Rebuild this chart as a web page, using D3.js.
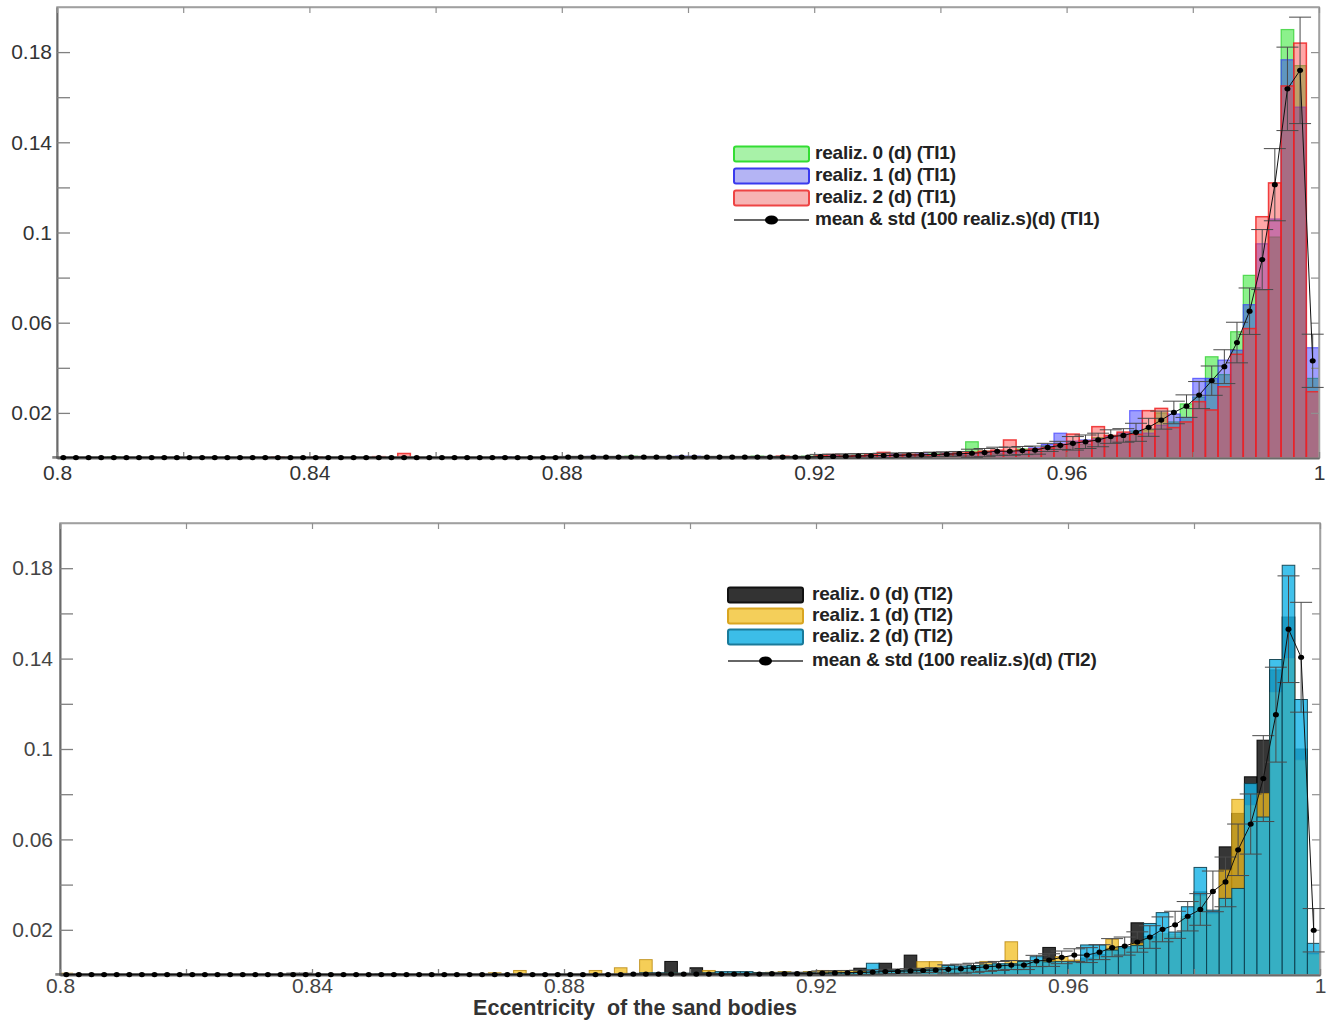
<!DOCTYPE html>
<html><head><meta charset="utf-8">
<script src="https://cdn.jsdelivr.net/npm/d3@7"></script>
<style>
body{margin:0;background:#fff}
svg{display:block;font-family:"Liberation Sans",Arial,sans-serif}
</style></head><body>
<svg id="chart" width="1335" height="1023"></svg>
<script>
// ---------- bins ----------
const binStart = 0.8, binWidth = 0.002, binCount = 100;
const xTickValues = [0.8,0.82,0.84,0.86,0.88,0.9,0.92,0.94,0.96,0.98,1.0];
const xTickLabels = ["0.8","","0.84","","0.88","","0.92","","0.96","","1"];
const yTickValues = [0.02,0.04,0.06,0.08,0.1,0.12,0.14,0.16,0.18];
const yTickLabels = ["0.02","","0.06","","0.1","","0.14","","0.18"];

// ---------- top panel (TI1) ----------
const topReal0 = [
 0,0,0,0,0.0006,0,0,0,0,0,
 0,0,0,0,0,0,0,0,0,0,
 0,0,0,0,0,0,0,0,0,0,
 0,0,0,0,0,0,0,0,0,0,
 0,0,0,0,0,0.0008,0.0004,0,0.0005,0.0004,
 0.0005,0.0005,0.0004,0,0,0.0008,0,0,0,0.0008,
 0.0008,0.0006,0.001,0.0012,0.001,0.0012,0.0014,0.0015,0.0012,0.0018,
 0.0016,0.002,0.0072,0.003,0.002,0.003,0.004,0.003,0.005,0.005,
 0.007,0.006,0.009,0.009,0.0105,0.012,0.0125,0.02,0.016,0.024,
 0.027,0.0449,0.037,0.056,0.081,0.0744,0.098,0.19,0.174,0.0353];
const topReal1 = [
 0,0,0,0,0,0,0,0,0,0,
 0,0,0,0,0,0,0,0,0,0,
 0,0,0,0,0,0,0,0,0,0,
 0,0,0,0,0,0.0006,0,0,0,0,
 0,0,0.0007,0,0,0,0,0,0,0.0008,
 0.0008,0,0,0,0,0,0,0,0,0,
 0.0006,0.001,0.0008,0.001,0.0012,0.001,0.0015,0.0012,0.0018,0.0015,
 0.002,0.0018,0.002,0.0025,0.003,0.0025,0.003,0.0045,0.006,0.011,
 0.0075,0.008,0.0085,0.0095,0.011,0.021,0.011,0.0145,0.0195,0.018,
 0.0353,0.0353,0.0434,0.0478,0.068,0.095,0.106,0.1766,0.1556,0.0489];
const topReal2 = [
 0,0,0,0,0,0,0,0,0,0,
 0,0,0,0,0,0,0,0.0005,0,0,
 0.0005,0,0,0,0,0.0006,0,0.002,0,0,
 0,0,0,0,0,0,0,0,0,0,
 0,0,0,0,0,0,0,0,0,0,
 0,0,0,0,0,0,0,0.0008,0,0,
 0.001,0.0015,0.0008,0.001,0.0014,0.0025,0.0012,0.0016,0.0015,0.0014,
 0.0018,0.0022,0.0025,0.003,0.0035,0.008,0.0035,0.004,0.0045,0.006,
 0.0106,0.0075,0.0139,0.01,0.0115,0.0105,0.021,0.022,0.0135,0.016,
 0.025,0.0213,0.0316,0.046,0.0574,0.107,0.122,0.165,0.184,0.0294];
const topMean = [
 0.0002,0.0002,0.0002,0.0002,0.0002,0.0002,0.0002,0.0002,0.0002,0.0002,
 0.0002,0.0002,0.0002,0.0002,0.0002,0.0002,0.0002,0.0002,0.0002,0.0002,
 0.0002,0.0002,0.0002,0.0002,0.0002,0.0002,0.0002,0.0002,0.0002,0.0002,
 0.0002,0.0002,0.0002,0.0002,0.0002,0.0002,0.0002,0.0002,0.0002,0.0002,
 0.0004,0.0004,0.0004,0.0004,0.0004,0.0004,0.0004,0.0004,0.0004,0.0004,
 0.0004,0.0004,0.0004,0.0004,0.0004,0.0004,0.0004,0.0004,0.0004,0.0004,
 0.0006,0.0007,0.0008,0.0009,0.001,0.0011,0.0012,0.0013,0.0014,0.0016,
 0.0017,0.0019,0.0021,0.0024,0.003,0.003,0.0033,0.0035,0.0047,0.0056,
 0.0065,0.0072,0.008,0.0095,0.01,0.0114,0.0136,0.0168,0.0202,0.023,
 0.0279,0.0343,0.0405,0.0512,0.0651,0.088,0.1212,0.1637,0.1719,0.0431];
const topStd = [
 0.0003,0.0003,0.0003,0.0003,0.0003,0.0003,0.0003,0.0003,0.0003,0.0003,
 0.0003,0.0003,0.0003,0.0003,0.0003,0.0003,0.0003,0.0003,0.0003,0.0003,
 0.0003,0.0003,0.0003,0.0003,0.0003,0.0003,0.0003,0.0003,0.0003,0.0003,
 0.0003,0.0003,0.0003,0.0003,0.0003,0.0003,0.0003,0.0003,0.0003,0.0003,
 0.0003,0.0003,0.0003,0.0003,0.0003,0.0003,0.0003,0.0003,0.0003,0.0003,
 0.0003,0.0003,0.0003,0.0003,0.0003,0.0003,0.0003,0.0003,0.0003,0.0003,
 0.001,0.001,0.001,0.001,0.001,0.001,0.001,0.001,0.001,0.001,
 0.001,0.001,0.0018,0.0018,0.0018,0.0018,0.0018,0.0018,0.0018,0.0018,
 0.003,0.003,0.003,0.003,0.003,0.004,0.004,0.004,0.005,0.005,
 0.006,0.0065,0.0075,0.009,0.0103,0.0133,0.016,0.0185,0.0236,0.0118];
const topLabels = ["realiz. 0 (d) (TI1)","realiz. 1 (d) (TI1)","realiz. 2 (d) (TI1)","mean & std (100 realiz.s)(d) (TI1)"];

// ---------- bottom panel (TI2) ----------
const botReal0 = [
 0,0,0,0,0,0,0,0,0,0,
 0,0,0,0,0,0,0,0,0.0008,0.0008,
 0,0,0,0,0,0,0.0005,0,0,0,
 0,0,0,0,0,0,0,0,0,0,
 0,0,0,0,0,0,0,0,0.006,0,
 0.0032,0,0,0.0008,0,0.001,0.0008,0.001,0.0012,0.001,
 0.001,0.0008,0.0012,0.003,0.0015,0.0052,0.0018,0.0088,0.002,0.0025,
 0.003,0.0035,0.003,0.004,0.0045,0.004,0.005,0.006,0.0122,0.004,
 0.006,0.0075,0.009,0.0118,0.0118,0.0231,0.017,0.018,0.017,0.025,
 0.0368,0.028,0.0567,0.0715,0.0877,0.1039,0.135,0.1584,0.10,0.0096];
const botReal1 = [
 0.0008,0,0,0,0,0,0,0,0,0,
 0,0,0,0,0,0,0,0,0,0,
 0,0,0,0,0,0,0,0,0,0,
 0,0,0,0,0.001,0,0.002,0,0,0,
 0,0,0.002,0,0.0032,0,0.0068,0,0.001,0,
 0,0.002,0,0.001,0.0008,0.001,0.0012,0.0015,0.001,0.0015,
 0.002,0.0018,0.002,0.0015,0.0012,0.0015,0.002,0.002,0.0059,0.0059,
 0.0035,0.003,0.004,0.006,0.0045,0.0147,0.006,0.006,0.0066,0.0081,
 0.0066,0.006,0.008,0.0158,0.0115,0.014,0.016,0.0184,0.018,0.0258,
 0.035,0.027,0.0464,0.0777,0.075,0.0803,0.125,0.14,0.095,0.009];
const botReal2 = [
 0,0,0,0,0,0,0,0,0,0,
 0,0,0,0,0,0,0,0,0,0,
 0,0,0,0,0,0.0005,0,0,0,0,
 0,0,0,0,0,0,0,0,0,0,
 0,0,0,0,0,0,0.001,0.001,0.001,0.0008,
 0.0008,0.001,0.0015,0.0015,0.0015,0.001,0.001,0.0012,0.001,0.0012,
 0.0008,0.001,0.001,0.0012,0.0052,0.0018,0.002,0.0022,0.0025,0.0028,
 0.0042,0.004,0.0042,0.0045,0.005,0.005,0.006,0.0081,0.0058,0.006,
 0.0058,0.0133,0.0133,0.011,0.0125,0.013,0.0228,0.0276,0.019,0.0302,
 0.0476,0.0287,0.0339,0.0383,0.0847,0.0699,0.1396,0.1813,0.1219,0.014];
const botMean = [
 0.0002,0.0002,0.0002,0.0002,0.0002,0.0002,0.0002,0.0002,0.0002,0.0002,
 0.0002,0.0002,0.0002,0.0002,0.0002,0.0002,0.0002,0.0002,0.0002,0.0002,
 0.0002,0.0002,0.0002,0.0002,0.0002,0.0002,0.0002,0.0002,0.0002,0.0002,
 0.0002,0.0002,0.0002,0.0002,0.0002,0.0002,0.0002,0.0002,0.0002,0.0002,
 0.0002,0.0002,0.0002,0.0002,0.0002,0.0004,0.0004,0.0004,0.0004,0.0004,
 0.0004,0.0004,0.0004,0.0004,0.0004,0.0004,0.0006,0.0006,0.0006,0.0006,
 0.0008,0.0009,0.001,0.0011,0.0013,0.0015,0.0016,0.0018,0.002,0.0022,
 0.0025,0.0028,0.0032,0.0036,0.004,0.0044,0.0044,0.0062,0.0066,0.0078,
 0.0088,0.0088,0.0101,0.0121,0.0128,0.0146,0.0168,0.0202,0.0222,0.026,
 0.029,0.037,0.0412,0.0554,0.0668,0.0869,0.1152,0.153,0.1406,0.0198];
const botStd = [
 0.0003,0.0003,0.0003,0.0003,0.0003,0.0003,0.0003,0.0003,0.0003,0.0003,
 0.0003,0.0003,0.0003,0.0003,0.0003,0.0003,0.0003,0.0003,0.0003,0.0003,
 0.0003,0.0003,0.0003,0.0003,0.0003,0.0003,0.0003,0.0003,0.0003,0.0003,
 0.0003,0.0003,0.0003,0.0003,0.0003,0.0003,0.0003,0.0003,0.0003,0.0003,
 0.0003,0.0003,0.0003,0.0003,0.0003,0.0003,0.0003,0.0003,0.0003,0.0003,
 0.0003,0.0003,0.0003,0.0003,0.0003,0.0003,0.0003,0.0003,0.0003,0.0003,
 0.001,0.001,0.001,0.001,0.001,0.001,0.001,0.001,0.001,0.001,
 0.002,0.002,0.002,0.002,0.002,0.002,0.002,0.0025,0.0028,0.0028,
 0.0028,0.0033,0.0033,0.004,0.004,0.0045,0.005,0.0055,0.006,0.0065,
 0.007,0.009,0.011,0.0114,0.0133,0.019,0.021,0.0236,0.0243,0.0096];
const botLabels = ["realiz. 0 (d) (TI2)","realiz. 1 (d) (TI2)","realiz. 2 (d) (TI2)","mean & std (100 realiz.s)(d) (TI2)"];

const xTitle = "Eccentricity  of the sand bodies";

// ---------- drawing ----------
const svg = d3.select("#chart");
svg.append("rect").attr("width",1335).attr("height",1023).attr("fill","#fff");

function drawPanel(p) {
  const g = svg.append("g");
  const x = d3.scaleLinear().domain([0.8, 1.0]).range([p.left, p.right]);
  const y = d3.scaleLinear().domain([0, 0.2]).range([p.bottom, p.top]);
  const bx = i => x(binStart + i * binWidth);

  // bars
  p.series.forEach(s => {
    g.append("g").selectAll("rect")
      .data(s.values.map((v, i) => ({v, i})).filter(d => d.v > 0))
      .join("rect")
      .attr("x", d => bx(d.i)).attr("width", d => bx(d.i + 1) - bx(d.i))
      .attr("y", d => y(d.v)).attr("height", d => y(0) - y(d.v))
      .attr("fill", s.fill).attr("fill-opacity", s.fo)
      .attr("stroke", s.stroke).attr("stroke-opacity", s.so).attr("stroke-width", s.sw);
  });

  // frame
  g.append("rect").attr("x", p.left).attr("y", p.top)
    .attr("width", p.right - p.left).attr("height", p.bottom - p.top)
    .attr("fill", "none").attr("stroke", "#a0a0a0").attr("stroke-width", 1.5);

  const styleAxis = (a, col) => {
    a.select(".domain").attr("stroke", "#6a6a6a").attr("stroke-width", 2);
    a.selectAll(".tick line").attr("stroke", "#808080").attr("stroke-width", 1.3);
    a.selectAll(".tick text").attr("font-size", 21).attr("fill", col);
  };
  // left
  g.append("g").attr("transform", `translate(${p.left},0)`)
    .call(d3.axisLeft(y).tickValues(yTickValues).tickFormat((d, i) => yTickLabels[i])
      .tickSize(-13).tickSizeOuter(0).tickPadding(p.yPad))
    .call(a => styleAxis(a, p.textCol));
  // right
  g.append("g").attr("transform", `translate(${p.right},0)`)
    .call(d3.axisRight(y).tickValues(yTickValues).tickFormat("").tickSize(-8).tickSizeOuter(0))
    .call(a => { a.select(".domain").attr("stroke", "#a0a0a0").attr("stroke-width", 1.5);
                 a.selectAll(".tick line").attr("stroke", "#909090").attr("stroke-width", 1.2); });
  // top
  g.append("g").attr("transform", `translate(0,${p.top})`)
    .call(d3.axisTop(x).tickValues(xTickValues).tickFormat("").tickSize(-6).tickSizeOuter(0))
    .call(a => { a.select(".domain").attr("stroke", "#a0a0a0").attr("stroke-width", 1.5);
                 a.selectAll(".tick line").attr("stroke", "#909090").attr("stroke-width", 1.2); });
  // bottom
  g.append("g").attr("transform", `translate(0,${p.bottom})`)
    .call(d3.axisBottom(x).tickValues(xTickValues).tickFormat((d, i) => xTickLabels[i])
      .tickSize(-6).tickSizeOuter(0).tickPadding(p.xPad))
    .call(a => styleAxis(a, p.textCol));

  // error bars
  const cx = i => x(binStart + (i + 0.5) * binWidth);
  const eb = g.append("g").attr("stroke", "#4a4a4a").attr("stroke-width", 1).attr("fill", "none");
  p.mean.forEach((m, i) => {
    const s = p.std[i];
    const lo = y(Math.max(0, m - s)), hi = y(m + s);
    eb.append("line").attr("x1", cx(i)).attr("x2", cx(i)).attr("y1", lo).attr("y2", hi);
    eb.append("line").attr("x1", cx(i) - 11).attr("x2", cx(i) + 11).attr("y1", hi).attr("y2", hi);
    eb.append("line").attr("x1", cx(i) - 11).attr("x2", cx(i) + 11).attr("y1", lo).attr("y2", lo);
  });
  // mean line + dots
  g.append("path").datum(p.mean)
    .attr("d", d3.line().x((d, i) => cx(i)).y(d => y(d)))
    .attr("fill", "none").attr("stroke", "#111").attr("stroke-width", 1);
  g.append("g").selectAll("ellipse").data(p.mean).join("ellipse")
    .attr("cx", (d, i) => cx(i)).attr("cy", d => y(d)).attr("rx", 3).attr("ry", 2.6).attr("fill", "#000");

  // legend
  const L = p.legend;
  const lg = g.append("g");
  p.series.forEach((s, k) => {
    lg.append("rect").attr("x", L.x).attr("y", L.rows[k] - L.h / 2).attr("width", L.w).attr("height", L.h)
      .attr("rx", 2).attr("fill", s.lfill).attr("stroke", s.lstroke).attr("stroke-width", 2);
  });
  lg.append("line").attr("x1", L.x).attr("x2", L.x + L.w).attr("y1", L.rows[3]).attr("y2", L.rows[3])
    .attr("stroke", "#333").attr("stroke-width", 1.5);
  lg.append("ellipse").attr("cx", L.x + L.w / 2).attr("cy", L.rows[3]).attr("rx", 6.5).attr("ry", 4.5).attr("fill", "#000");
  lg.selectAll("text").data(p.labels).join("text")
    .attr("x", L.tx).attr("y", (d, k) => L.rows[k] + 5)
    .attr("font-size", 19).attr("font-weight", "bold").attr("fill", "#222")
    .attr("letter-spacing", -0.2)
    .text(d => d);
}

drawPanel({
  left: 57, right: 1319, top: 7, bottom: 458, yPad: 5, xPad: 7, textCol: "#333",
  series: [
    {values: topReal0, fill: "#00e000", fo: 0.45, stroke: "#22cc22", so: 0.7, sw: 1.2, lfill: "#a8f2a8", lstroke: "#33dd33"},
    {values: topReal1, fill: "#2828ff", fo: 0.45, stroke: "#3a3aff", so: 0.7, sw: 1.2, lfill: "#b4b4f4", lstroke: "#3a3aee"},
    {values: topReal2, fill: "#ff3c3c", fo: 0.45, stroke: "#ee2222", so: 0.85, sw: 1.5, lfill: "#f7b4b4", lstroke: "#ee4444"}
  ],
  mean: topMean, std: topStd, labels: topLabels,
  legend: {x: 734, w: 75, h: 15, rows: [154, 176, 198, 220], tx: 815}
});

drawPanel({
  left: 60, right: 1320, top: 523, bottom: 975, yPad: 7, xPad: 3, textCol: "#444",
  series: [
    {values: botReal0, fill: "#202020", fo: 0.9, stroke: "#000", so: 0.9, sw: 1, lfill: "#333333", lstroke: "#111"},
    {values: botReal1, fill: "#f2bd1f", fo: 0.75, stroke: "#b8860b", so: 0.8, sw: 1, lfill: "#f4cf5a", lstroke: "#d9a520"},
    {values: botReal2, fill: "#17b3e6", fo: 0.82, stroke: "#0d3d4a", so: 0.9, sw: 1, lfill: "#3cbde8", lstroke: "#1a7a9a"}
  ],
  mean: botMean, std: botStd, labels: botLabels,
  legend: {x: 728, w: 75, h: 15, rows: [595, 616, 637, 661], tx: 812}
});

svg.append("text").attr("x", 635).attr("y", 1015).attr("text-anchor", "middle")
  .attr("font-size", 21.5).attr("font-weight", "bold").attr("fill", "#333")
  .style("white-space", "pre").text(xTitle);
</script>
</body></html>
